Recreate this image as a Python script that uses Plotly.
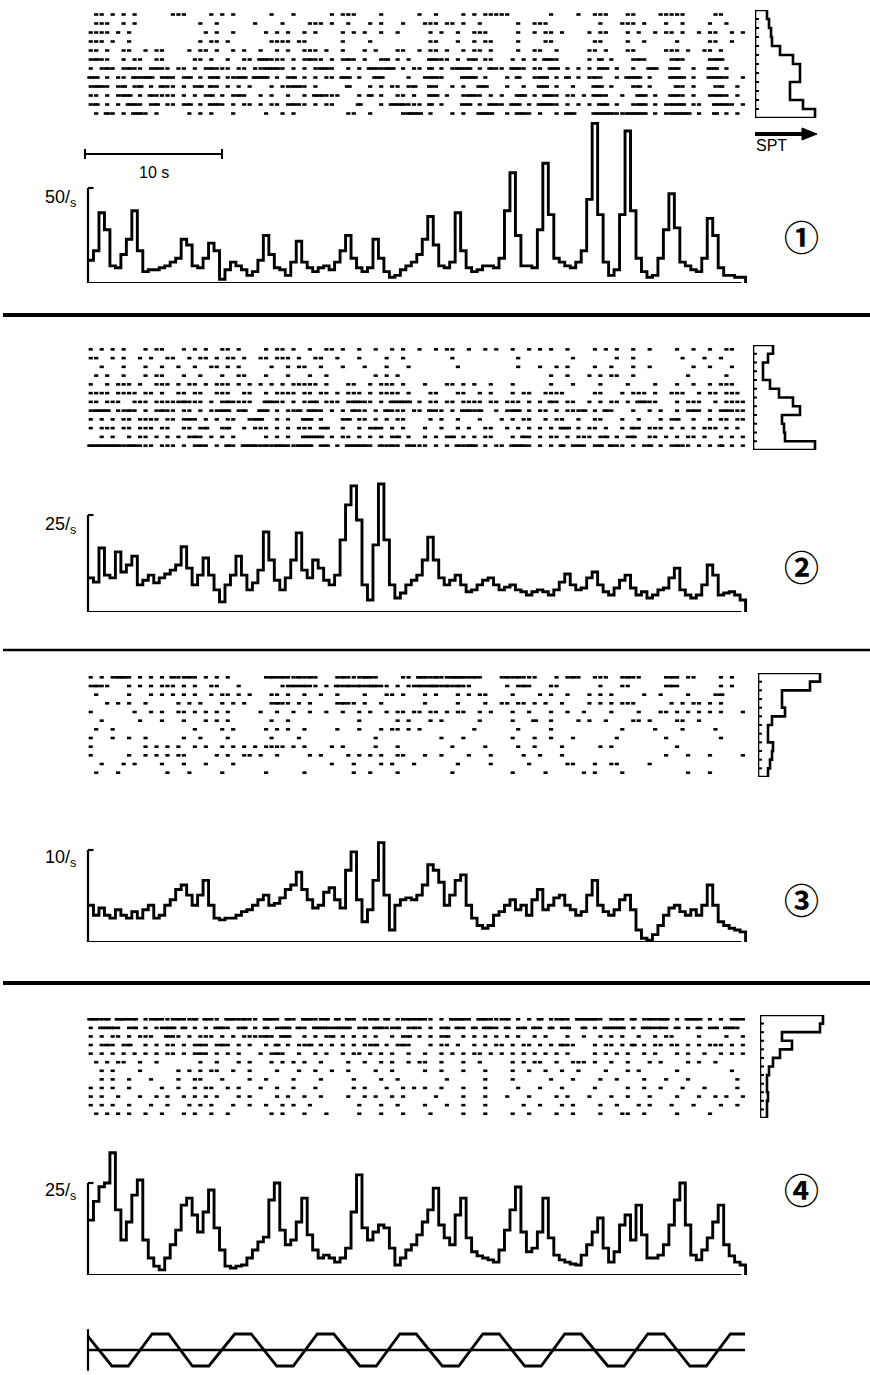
import plotly.graph_objects as go

W, H = 870, 1375
BIN = 0.4  # seconds per PSTH bin and per raster character

# ---------------- data ----------------
psth1 = [12,17,37,28,9,8,15,23,38,17,6,7,7,8,9,
         11,13,23,20,9,8,13,21,17,2,7,11,9,7,4,
         6,12,25,15,8,7,4,11,22,11,8,6,8,9,7,
         11,17,25,13,8,6,8,23,13,6,3,4,7,9,11,
         15,23,35,20,9,8,11,37,17,8,6,7,9,9,8,
         13,38,58,25,9,9,8,28,63,36,13,11,9,8,11,
         17,44,84,36,11,4,7,36,80,38,13,6,3,4,13,
         28,47,29,11,9,7,6,13,34,25,8,4,4,3,3]
psth2 = [8.8,7.7,16.5,9.5,8.8,15.5,10.3,12.1,14.4,7.0,8.2,9.5,7.5,8.8,9.8,
         10.8,12.1,16.8,11.3,7.0,9.5,13.9,9.5,5.7,2.6,7.0,9.5,14.4,9.5,5.7,
         7.5,10.8,20.6,13.4,8.2,5.7,8.8,13.4,20.4,10.8,8.8,13.4,11.3,8.2,7.0,
         9.5,18.6,27.6,32.5,23.7,7.0,3.1,17.3,33.0,18.6,7.0,3.6,4.9,7.0,8.2,
         9.5,13.4,19.3,13.4,8.8,7.0,8.2,9.5,7.0,5.2,5.7,7.0,8.2,8.8,7.0,
         5.7,6.4,7.0,5.7,5.2,4.4,5.2,5.7,5.2,4.4,5.7,7.7,9.8,7.0,5.7,
         6.2,8.8,10.3,7.0,5.2,4.4,6.2,8.2,9.5,6.2,4.4,5.2,3.6,4.4,5.7,
         6.2,8.8,11.3,5.7,4.4,3.6,4.4,7.0,12.1,9.5,4.4,4.9,5.2,4.4,3.1]
psth3 = [4.0,2.9,3.7,2.9,2.6,3.5,2.9,2.6,3.3,2.6,3.5,4.0,2.6,2.9,4.0,
         4.6,5.7,6.2,5.1,4.0,5.1,6.7,4.0,2.6,2.4,2.6,2.6,2.9,3.3,3.5,
         4.0,4.6,5.1,4.0,4.2,4.8,5.7,6.2,7.6,5.7,4.6,3.7,4.0,5.4,5.9,
         4.6,3.7,7.8,9.8,4.6,2.2,3.5,6.7,10.8,5.1,1.3,4.0,4.6,4.8,4.6,
         5.1,6.2,8.4,7.8,6.5,4.0,5.1,6.7,7.3,4.0,2.6,1.8,1.5,1.8,2.9,
         3.3,4.0,4.6,3.5,4.0,2.9,4.6,5.7,3.5,4.0,4.8,5.1,4.0,3.5,2.9,
         3.3,5.1,6.7,4.0,3.3,2.9,3.5,4.6,5.1,3.5,1.3,0.4,0.2,0.8,1.8,
         2.9,3.7,4.0,3.3,2.9,3.5,2.9,4.0,6.2,4.0,2.2,1.8,1.5,1.3,1.1]
psth4 = [14.9,20.0,24.0,25.0,33.2,17.7,9.5,14.4,21.7,25.8,9.5,4.6,2.4,1.4,4.6,
         8.2,12.2,19.0,20.9,16.3,11.7,17.1,23.1,12.8,6.8,2.4,1.9,2.4,2.7,4.6,
         6.8,9.0,10.3,20.4,25.0,12.2,8.2,9.5,14.4,20.9,10.9,6.8,4.6,5.4,4.6,
         3.5,4.6,7.3,17.1,27.2,12.8,9.5,11.7,13.6,12.8,7.3,2.7,4.6,6.8,8.2,
         10.9,14.4,17.7,23.6,13.6,10.1,8.2,16.3,20.9,10.1,6.3,5.2,4.6,4.1,3.5,
         6.8,12.2,17.7,23.9,11.7,6.3,7.3,11.7,20.9,10.1,5.4,4.1,3.5,3.0,2.7,
         5.4,8.2,11.7,15.5,7.3,3.5,6.3,13.6,16.3,9.5,19.0,10.9,4.6,4.6,5.4,
         8.2,13.6,20.4,25.0,13.6,5.4,4.1,6.8,10.1,14.4,19.0,8.2,5.2,3.5,2.7]

scale_vals = [50, 25, 10, 25]
scale_labels = ["50", "25", "10", "25"]
panel_numbers = ["\u2460", "\u2461", "\u2462", "\u2463"]

# spikes per trial (histograms right of rasters), one value per trial row
hist1 = [12, 14, 16, 17, 25, 38, 45, 45, 35, 35, 48, 60]
hist2 = [20, 15, 10, 10, 17, 26, 40, 47, 29, 31, 32, 62]
hist3 = [62, 52, 24, 24, 27, 14, 10, 10, 15, 14, 12, 10]
hist4 = [63, 60, 22, 32, 20, 13, 9, 7, 7, 8, 7, 7]

# raster rows: one character per 0.4 s slot, digit = number of spikes, '|' every 6 s
raster1 = [
    " 11 1 1 1      |111    1 1 1   |   1   1      1| 111    1      |1  1    1 1 111|11       1    1|  111   11    1|1111     11    ",
    " 111  1 1      |     1  1      |1    1    111 1|  1   1 1   1  | 111 11 1  1   |   1  111      |   1   111 1   |1  1    1  1   ",
    "1111 1 1       |      1 1  1   |  1 1 1  1 1   | 1 1 1  1  1   |  1 1  1  111  |   1  1 11 1   | 1 11   1 1  1 |11 1  1 11  1 1",
    "111 1  1       |     1 11 1    |   1111 11     | 1    1        |  11   1  1 11 |   1    11     |  11    1  1   |  1     11  1  ",
    "11 1  11  1 11 |   1 11 1  1 1 | 1  1 1  111 1 | 1   1 1   11  |1 11 1  1 11 1 |   1  11  1    | 11 1   11     |111 1  11 1    ",
    "1211  1 11  11 |    11 1  1  11| 22111 1 1211 1| 121 1  12 1 1 |  2211 1 12 11 |  1 1 1 221    | 1 2 1   121   | 121    122    ",
    "1 121 1211 1211| 11 1 12111 11 |112221 1 1 1221|  1 1 22122 1 1|1 2 1 1222 1 21|1 221 11 22 1 1| 1 22 1  1  22 | 22  1  22 1   ",
    "22 1 11 2122 12|1 12 1 22 1122 |222 1 12 1 1 11| 22 1  22    1 | 1221   222 1  | 1 2  122 1 2 1| 121  1 222 1  | 222 1  2221  1",
    "1221 12 12 1 21|1 1 12 21 1 1 1|   1 11221 1   |  2   1 1 11 12|  21  1 1  22  | 1  1  22 1  1 |  22 1   12 1  |  21 1   12  1 ",
    "11 1 122 1 2111|1 1 1 12 1 121 | 1 1  1  1 2211|1   1 2 1  11 1|  22 1  1221 1 |1  22 1 221 11 |1 221  1  22 1 | 221 1  1221 1 ",
    "12 1 1 221 12 1|1 12 1 221 1 11| 1 11 1211 1 11|    2   1 22211|1 2 1   22 1 22|1 22 1 2221 1 1| 1 22 1  122 1 |1222 11  2221 1",
    " 1 21 1 221 1  |   1 1 1   1   |  1  1 1       |  11  1     122|2 1   1 1  222 | 1 221 1  1 22 |  2222112222 1 |12222 1  2 1 1 ",
]
raster2 = [
    "1 1 1 1   1 11 |  1 1 1  11 1  |  1 11 1  1  11| 1  1  1  1 1  |1  1 11  1  1 1|  1  1 1 1  1  |  1 1 1  1  1  |  1  1  1  11  ",
    "11  1 1  1 1  1|1  1 11 1 11 1 | 11 111 1  11  |1   1    1  1  |      1        |   1         1 |      1  1     |   1   1  1    ",
    "  1   1   1  1 | 1  1  11 1 1  |   1  1 11  1  | 1   1   1   1 |       1       |   1   1  1 1  |  1  1   1  1  |     1  1   1  ",
    " 1 1  1   1 11 |  1  1   1  11 |  1   1   1  1 |       1 1 1   |               |         1  1  | 1 1 11  1     |    1      1   ",
    "1  1 111 1  111| 1 11 1 111 1 1| 1 1 1 11111 1 |  11  1 111 1  | 1   11 1 1  1 |  1      1   1 |   1    1    1 |  1  1  1 111  ",
    "1111 1111 11 1 | 11 11  111  11|  1 1111 11 11 |1 111 1 1111 1 |  11   11  1 1 |  1 11  1111   |  11   1 111 1 | 111  1 11 111 ",
    "11 111  111 111|112111 1 121111|  2211 1 112 11|1 12211 1 2222 |1 11 11 1111 11| 111 1 1 21 11 | 1 1 11 1 2211 |  1 111  1 1111",
    "1222 1121 1 121|1 11 1 1122 12 | 22 1 112 221 1| 1 211 1 2111 1|1 211 1 2212  1| 122 1 11 1 111|2 1 21   1  1 1|  1 121 1 12111",
    "1 1 1 11 1111 1|1 121 1 1 11  1|22  1 1  22 1  | 12 11 1 1 11  |  1 1  1   1   |1 1 11  1 11  1|  11   1  1   1| 12  1  1 11 11",
    "1 111 11 111 11|  11 12  12  1 |111 1 1 111 12 | 1  1 121 1 1  | 1  1  1 1  11 | 1 1 1 1 1 22 1| 11 1  1 21 111| 1 1 1 111 1 1 ",
    "  1 1  1 11 1 1| 1 121 1 1 1   |  1 1 1  2222 1| 11 1 1 1 12 1 | 1 1 12 1 1 11 |  1 21 1 11 1 1|11 12 1 12  11 |1 1 11 1  1 1 1",
    "222222122111 11|1 1 121 1 21 22|21212211222 12 |1 22221 2121 21|11 1 1 2122 1 1|1 2221 1 1 2 12|1 12 211 1 12 1| 1211 1 1 2 1 1",
]
raster3 = [
    "1 1 1221 1 1 1 |21121 1 1 1    |  1212112121   |12111221    11 |221211222121   |1212111   1 121|  111  1211    |121 11    1 1  ",
    "1211   1 1 1 11|1 1 1  11   1  |     1121211 1 |2121212211 1 11|2122121211     | 1 121   11    |   1   11      |121       1 1  ",
    " 1     1   1 1 |1 1 1  1 11 1 1|   11 1  1  1  |1    1   11 1  | 1 1   1 1 11  |  1    1 1  1  | 1 1 1     1  1|    1    12    ",
    "   1 1 1  1    | 1 1 1   1 1 1 |   1211 1 1    |1211 1  1      | 1     1    1  |11 11 1 1  1   | 1 1 1 111     | 1 1 11 1 1    ",
    "1       1  1 1 | 11 1 1 1 1    | 1  1  1  1  1 | 1  1 1  1 11 1|1 11 1 11  1 1 |  1  1   1  1  |1    1    1   1|1 1 1 1 1 1   1",
    "  1      1   1 |  1   1 1 1    |   1  1        |    1      1 1 |  1 1      1   |  1   2  1    1| 1  1    11 1  |  11  1        ",
    " 1  1          |    1    1 1   |  1 1 1  1     |1   1   1 11 1 |1         1    |   1     1     |       1     1 |   1     1     ",
    "1   1  1  1    |  1  1    1    |   1    1      |       1       |    1   1      |  1   1  1   1 |      1        |1         1    ",
    "1         1 1 1| 1  1 1  1 1 1 |1 1111 1 1    1| 1     1   1   |      1     1  |   1  1    1   |   1 1         |  1            ",
    "1      1  1 1 1| 11     1 1  11| 1  1     1 1  |  1 1 1 1  11  | 1  1    1   1 |    1  1   1   |               |1   1   1     1",
    "  1   1 1    1 |  1   1    1   |              1|   1    1 1   1|       1     1 |     1      11 |  1  11     1  |               ",
    " 1   1        1|   1     1     |  1      1     |   1  1    1   |      1        |  1     1      |1 1    1       |    1   1      ",
]
raster4 = [
    "2212 2212 11211|12112 211 22121|1 221 21 22112 |2 21 112 2 1121|211 1 2221 2211|12 1 1 2 1121 2|2221 121 2 1212|2 1 222 1 1 121",
    "1 2221 12 1 112|2 2 1 1 221 12 |1 2 122 21 2221|222 12 22112 12|1 1 12 21 2 221| 2 12 21 2 12  |2 1 2222 1 2212|1 2 1 2 12 221 ",
    "1 1 11 1 111  2|11 1 111 1 1 11|1121 22  1 1 12| 1 1 1 1  1 12 |1 1 12  1 1 1 1| 1 1  1 1   1  |1  1 1 1  1  1 |11    1    1  1",
    "1 121 12  1 1 1|1 1 121 121 1 1|  1 2 1 112 1 1| 1 1 112 1 121 |  1 11 1  1 1 1|1 1 11 1 1 211 |  1 11 1 2 1 11| 11 1 1 111 1 1",
    "1 1 1 1 1 1 1 1|1 1 121 1 1 1  | 1 121  1  1 1 | 1 11 1 1 1  1 | 1  1 1 1 11 1 |1 1 1 1 1 1 1  |  1 1 1 1  1 1 |  1 1  1  1 1 1",
    " 1 1 11  1  1  |     1  1   1 1|   1 1 1 1  1  |  1  1  1 1  1 |11  1   1  1   |  1 1 11  1  11|1 1  1  1   1 1|    1 1  1     ",
    "  1 1    1     | 1 1 1 11  1  1|    1   1  1  1|  1    1  1    | 1  1   1   1  |  1  1  1  1  1|    1   1 1    |  1         1  ",
    "  1 1  1   1   | 1  11   1    1|  1    1    1  |   1    1  1   |     1      1  |  1      1   1 |   1  1    1   |1   1        1 ",
    "1 1 1  1     1 | 1  1 11  1 1  | 1  1  1   1   |   1 1   1  1 1| 1  1   1   1  |   1   1   1   |  1     1  1  1|   1   1     1 ",
    "1 1  1   1  1 1|  1 1 1 1   1 1|    1 1  1  1  |  1  1 1  1 1  |   1    1   1  | 1   1    1 1  | 1   1  1   1  |  1   1  1 1  1",
    "1 1 1  1   1  1|   1 1 1   1  1|  1  1 1  1    |    1   1  1   | 1   1  1   1  |    1  1   1 1 |   1  1   1 1  | 1   1    1  1 ",
    " 1 1 1 1  1  1 |  1 1  1  1    |   1 1   1   1 |    1   1   1  |  1     1   1  |  1  1    1  1 |   1   11  1   |  1     1      ",
]

# stimulus (position trace at the bottom): corner times [s] and normalised values
stim_t = [0.0, 1.74, 2.94, 4.68, 5.88, 7.62, 8.82, 10.71, 11.91, 13.78, 14.98,
          16.74, 17.94, 19.84, 21.04, 22.76, 23.96, 25.86, 27.06, 28.82, 30.02,
          31.88, 33.08, 34.80, 36.00, 37.94, 39.14, 40.86, 42.06, 43.93, 45.13,
          46.89, 47.96]
stim_v = [0.85, -1, -1, 1, 1, -1, -1, 1, 1, -1, -1,
          1, 1, -1, -1, 1, 1, -1, -1, 1, 1,
          -1, -1, 1, 1, -1, -1, 1, 1, -1, -1,
          1, 1]

scale_bar_s = 10

# ---------------- geometry (pixels) ----------------
T0_PX = 88.0
PX_PER_S = 13.7
FONT = "Liberation Sans, Arial, sans-serif"
INK = "black"


def fx(p):
    return p / W


def fy(p):
    return 1 - p / H


panels = [
    dict(psth=psth1, hist=hist1, raster=raster1, r_top=10, r_bot=118, h_left=755,
         base=283, mark=188, label_y=198, num_y=236),
    dict(psth=psth2, hist=hist2, raster=raster2, r_top=345, r_bot=450, h_left=753,
         base=612, mark=515, label_y=525, num_y=566),
    dict(psth=psth3, hist=hist3, raster=raster3, r_top=673, r_bot=777, h_left=758,
         base=942, mark=850, label_y=858, num_y=898),
    dict(psth=psth4, hist=hist4, raster=raster4, r_top=1015, r_bot=1118, h_left=760,
         base=1275, mark=1183, label_y=1191, num_y=1188),
]

fig = go.Figure()
layout = dict(
    width=W, height=H, margin=dict(l=0, r=0, t=0, b=0),
    paper_bgcolor="white", plot_bgcolor="rgba(0,0,0,0)",
    showlegend=False, hovermode=False,
    xaxis=dict(domain=[0, 1], range=[(0 - T0_PX) / PX_PER_S, (W - T0_PX) / PX_PER_S],
               visible=False, fixedrange=True),
    yaxis=dict(domain=[fy(1374), fy(1326)], range=[-1.5, 1.5], visible=False,
               anchor="x", fixedrange=True),
)
shapes = []
annotations = []

for k, p in enumerate(panels):
    ry = f"y{2 + 2 * k}"
    py_ = f"y{3 + 2 * k}"
    hx = f"x{2 + k}"
    nrows = len(p["raster"])
    layout[f"yaxis{2 + 2 * k}"] = dict(domain=[fy(p["r_bot"]), fy(p["r_top"])],
                                       range=[nrows + 0.5, 0.5], visible=False,
                                       anchor="x", fixedrange=True)
    ppu = (p["base"] - p["mark"]) / scale_vals[k]
    top_px = p["base"] - 185
    layout[f"yaxis{3 + 2 * k}"] = dict(domain=[fy(p["base"]), fy(top_px)],
                                       range=[0, (p["base"] - top_px) / ppu], visible=False,
                                       anchor="x", fixedrange=True)
    layout[f"xaxis{2 + k}"] = dict(domain=[fx(p["h_left"]), fx(p["h_left"] + 80)],
                                   range=[0, 80], visible=False, anchor=ry, fixedrange=True)

    # raster
    xs, ys = [], []
    for r, row in enumerate(p["raster"]):
        chars = "".join(c.ljust(15)[:15] for c in row.split("|"))
        for j, ch in enumerate(chars):
            if ch.isdigit() and int(ch) > 0:
                n = int(ch)
                for s in range(n):
                    xs.append((j + (s + 0.5) / n) * BIN)
                    ys.append(r + 1)
    fig.add_trace(go.Scatter(x=xs, y=ys, mode="markers", xaxis="x", yaxis=ry,
                             marker=dict(symbol="line-ew", size=3,
                                         line=dict(width=2.6, color=INK))))

    # spikes-per-trial histogram
    hv = p["hist"]
    hxs, hys = [0], [0.5]
    for i, v in enumerate(hv):
        hxs += [v, v]
        hys += [i + 0.5, i + 1.5]
    hxs += [0, 0]
    hys += [len(hv) + 0.5, 0.5]
    fig.add_trace(go.Scatter(x=hxs, y=hys, mode="lines", xaxis=hx, yaxis=ry,
                             line=dict(color=INK, width=2.6)))
    txs, tys = [], []
    for i in range(1, len(hv)):
        txs += [0, 4, None]
        tys += [i + 0.5, i + 0.5, None]
    fig.add_trace(go.Scatter(x=txs, y=tys, mode="lines", xaxis=hx, yaxis=ry,
                             line=dict(color=INK, width=2)))

    # PSTH
    vals = p["psth"]
    n = len(vals)
    px_ = [i * BIN for i in range(n)] + [n * BIN, n * BIN]
    pv = list(vals) + [vals[-1], 0]
    fig.add_trace(go.Scatter(x=px_, y=pv, mode="lines", xaxis="x", yaxis=py_,
                             line=dict(color=INK, width=2.9, shape="hv")))
    end_t = n * BIN - 0.3
    shapes.append(dict(type="line", xref="x", yref=py_, x0=0, x1=end_t, y0=0, y1=0,
                       line=dict(color=INK, width=2.2)))
    shapes.append(dict(type="line", xref="x", yref=py_, x0=0, x1=0, y0=0,
                       y1=scale_vals[k], line=dict(color=INK, width=2.2)))
    shapes.append(dict(type="line", xref="x", yref=py_, x0=0, x1=0.4,
                       y0=scale_vals[k], y1=scale_vals[k], line=dict(color=INK, width=2.2)))
    annotations.append(dict(text=f"{scale_labels[k]}/<sub>s</sub>", x=fx(78), y=fy(p["label_y"]),
                            xref="paper", yref="paper", xanchor="right", yanchor="middle",
                            showarrow=False, font=dict(family=FONT, size=18, color=INK)))
    annotations.append(dict(text=panel_numbers[k], x=fx(801), y=fy(p["num_y"]),
                            xref="paper", yref="paper", xanchor="center", yanchor="middle",
                            showarrow=False,
                            font=dict(family="Noto Sans CJK JP, DejaVu Sans", size=35,
                                      color=INK, weight="bold")))

# panel separators
for ypx, wdt in [(315, 4), (650, 2.5), (983, 4)]:
    shapes.append(dict(type="line", xref="paper", yref="paper", x0=fx(3), x1=1,
                       y0=fy(ypx), y1=fy(ypx), line=dict(color=INK, width=wdt)))

# time scale bar
sb0 = (85 - T0_PX) / PX_PER_S
shapes.append(dict(type="line", xref="x", yref="paper", x0=sb0, x1=sb0 + scale_bar_s,
                   y0=fy(154), y1=fy(154), line=dict(color=INK, width=2)))
for xe in (sb0, sb0 + scale_bar_s):
    shapes.append(dict(type="line", xref="x", yref="paper", x0=xe, x1=xe,
                       y0=fy(149), y1=fy(159), line=dict(color=INK, width=2)))
annotations.append(dict(text=f"{scale_bar_s} s", x=sb0 + scale_bar_s / 2, y=fy(172),
                        xref="x", yref="paper", xanchor="center", yanchor="middle",
                        showarrow=False, font=dict(family=FONT, size=16, color=INK)))

# SPT arrow (shaft + head) and label
shapes.append(dict(type="line", xref="paper", yref="paper", x0=fx(755), x1=fx(806),
                   y0=fy(134), y1=fy(134), line=dict(color=INK, width=4)))
shapes.append(dict(type="path", xref="paper", yref="paper",
                   path=(f"M {fx(802)},{fy(128)} L {fx(817)},{fy(134)} "
                         f"L {fx(802)},{fy(140)} Z"),
                   fillcolor=INK, line=dict(color=INK, width=1)))
annotations.append(dict(text="SPT", x=fx(754), y=fy(146), xref="paper", yref="paper",
                        xanchor="left", yanchor="middle", showarrow=False,
                        font=dict(family=FONT, size=16, color=INK)))

# stimulus trace
fig.add_trace(go.Scatter(x=stim_t, y=stim_v, mode="lines", xaxis="x", yaxis="y",
                         line=dict(color=INK, width=2.8)))
shapes.append(dict(type="line", xref="x", yref="y", x0=0, x1=stim_t[-1], y0=0, y1=0,
                   line=dict(color=INK, width=2.4)))
shapes.append(dict(type="line", xref="x", yref="y", x0=0, x1=0, y0=-1.3, y1=1.3,
                   line=dict(color=INK, width=2.2)))

layout["shapes"] = shapes
layout["annotations"] = annotations
fig.update_layout(**layout)
fig.write_html("out.html", config={"displayModeBar": False},
               post_script="document.body.style.margin='0px';")
